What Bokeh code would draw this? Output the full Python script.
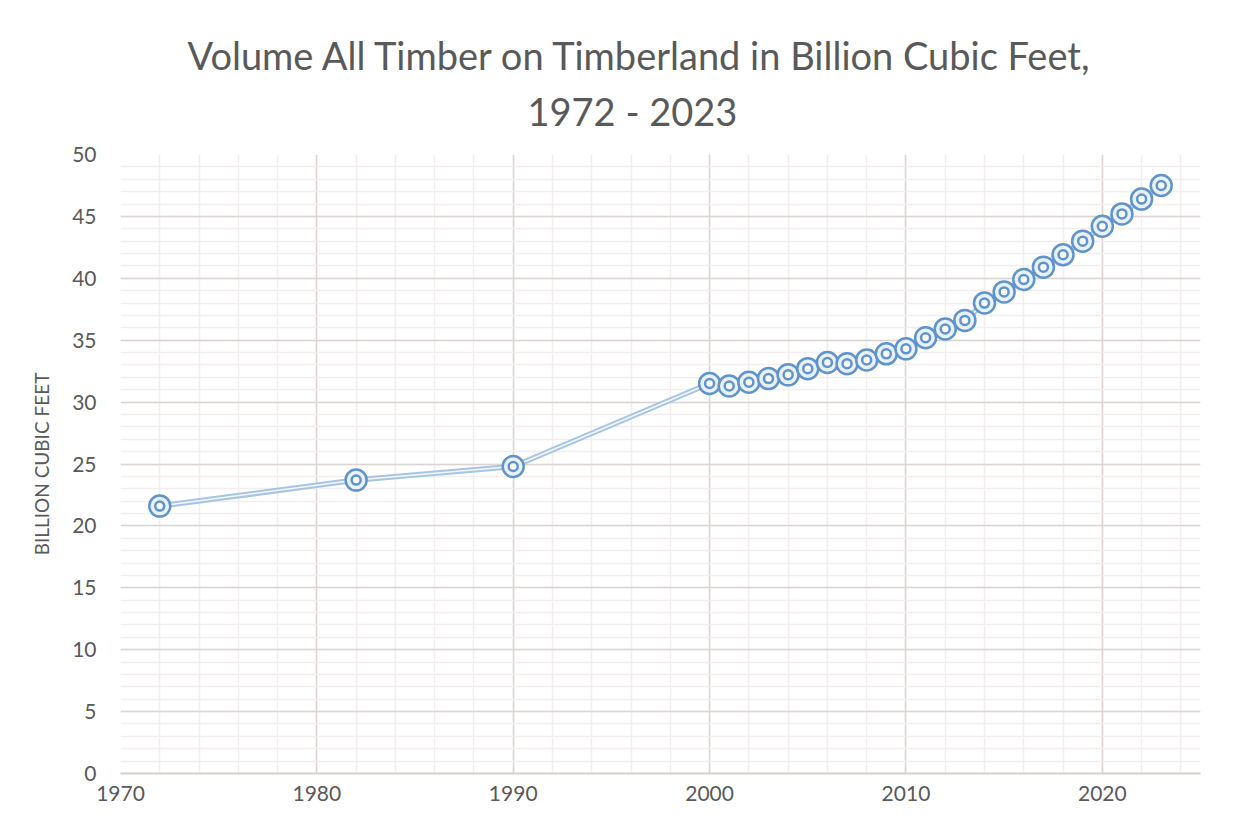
from bokeh.plotting import figure
from bokeh.models import (Range1d, SingleIntervalTicker, Title, ColumnDataSource)
from bokeh.embed import file_html
from bokeh.resources import INLINE

years = [1972, 1982, 1990, 2000, 2001, 2002, 2003, 2004, 2005, 2006, 2007,
         2008, 2009, 2010, 2011, 2012, 2013, 2014, 2015, 2016, 2017, 2018,
         2019, 2020, 2021, 2022, 2023]
volume = [21.6, 23.7, 24.8, 31.5, 31.3, 31.6, 31.9, 32.2, 32.7, 33.2, 33.1,
          33.4, 33.9, 34.3, 35.2, 35.9, 36.6, 38.0, 38.9, 39.9, 40.9, 41.9,
          43.0, 44.2, 45.2, 46.4, 47.5]
title_lines = ["Volume All Timber on Timberland in Billion Cubic Feet,", "1972 - 2023"]
y_label = "BILLION CUBIC FEET"

src = ColumnDataSource(dict(x=years, y=volume))

FONT = "Lato"
TXT = "#595959"

p = figure(width=1244, height=806, output_backend="svg", toolbar_location=None,
           x_range=Range1d(1970, 2025), y_range=Range1d(0, 50),
           frame_width=1080, frame_height=619,
           min_border_left=120, min_border_top=154, min_border_bottom=33,
           min_border_right=44)
p.outline_line_color = None
p.background_fill_color = "white"
p.border_fill_color = "white"

p.xaxis.ticker = SingleIntervalTicker(interval=10, num_minor_ticks=5)
p.yaxis.ticker = SingleIntervalTicker(interval=5, num_minor_ticks=5)
p.xgrid.ticker = p.xaxis.ticker
p.ygrid.ticker = p.yaxis.ticker

for g in (p.xgrid, p.ygrid):
    g.grid_line_color = "#dbd4d1"
    g.grid_line_width = 1.5
    g.minor_grid_line_color = "#f1eeed"
    g.minor_grid_line_width = 1.5

for ax in (p.xaxis, p.yaxis):
    ax.major_tick_line_color = None
    ax.minor_tick_line_color = None
    ax.major_label_text_font = FONT
    ax.major_label_text_font_size = "21px"
    ax.major_label_text_color = TXT
p.xaxis.axis_line_color = "#d6cfcc"
p.xaxis.axis_line_width = 2
p.yaxis.axis_line_color = None
p.xaxis.major_label_standoff = 6
p.yaxis.major_label_standoff = 18

p.yaxis.axis_label = y_label
p.yaxis.axis_label_text_font = FONT
p.yaxis.axis_label_text_font_size = "19px"
p.yaxis.axis_label_text_font_style = "normal"
p.yaxis.axis_label_text_color = TXT
p.yaxis.axis_label_standoff = 16

# line: light blue "double" line
p.line("x", "y", source=src, line_color="#a7c4e5", line_width=5.5)
p.line("x", "y", source=src, line_color="#f4f8fc", line_width=1.5)

# markers: concentric rings
p.scatter("x", "y", source=src, size=21, marker="circle", line_color="#6193cd",
          line_width=2.5, fill_color="#e9f1fa")
p.scatter("x", "y", source=src, size=9, marker="circle", line_color="#6193cd",
          line_width=2.5, fill_color="#f5f9fd")

# two-line title: second line nearest the frame
p.add_layout(Title(text=title_lines[1], align="left", offset=407,
                   text_font=FONT, text_font_size="38px", text_font_style="normal",
                   text_color=TXT, standoff=41), "above")
p.add_layout(Title(text=title_lines[0], align="left", offset=67,
                   text_font=FONT, text_font_size="38px", text_font_style="normal",
                   text_color=TXT, standoff=-25), "above")

open("out.html", "w").write(file_html(p, INLINE))
